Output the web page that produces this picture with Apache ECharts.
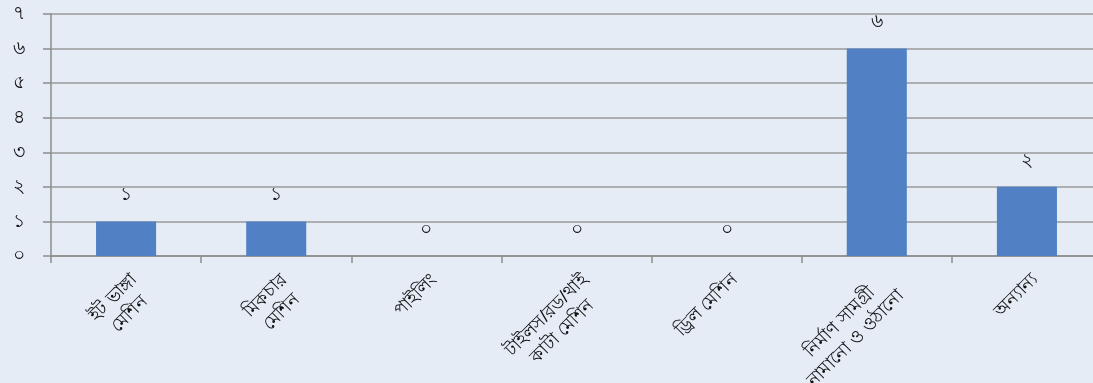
<!DOCTYPE html>
<html><head><meta charset="utf-8">
<script src="https://cdn.jsdelivr.net/npm/echarts@6/dist/echarts.min.js"></script>
<style>html,body{margin:0;padding:0;background:#E5ECF6;}#c{width:1093px;height:383px;}</style>
</head><body><div id="c"></div>
<script>
const categories = ["ইট ভাঙ্গা\nমেশিন", "মিকচার\nমেশিন", "পাইলিং", "টাইলস/রড/থাই\nকাটা মেশিন", "ড্রিল মেশিন", "নির্মাণ সামগ্রী\nনামানো ও ওঠানো", "অন্যান্য"];
const values = [1, 1, 0, 0, 0, 6, 2];
const bnDigits = ["০","১","২","৩","৪","৫","৬","৭","৮","৯"];
const toBn = n => String(n).split('').map(d => bnDigits[+d] ?? d).join('');

const FS = 18, LH = 23;
const ctx = document.createElement('canvas').getContext('2d');
ctx.font = FS + 'px sans-serif';
// one rich style per label line; shorter lines get right padding so lines are centred
const rich = {};
const labelText = {};
categories.forEach((c, i) => {
  const lines = c.split('\n');
  const ws = lines.map(l => ctx.measureText(l).width);
  const maxW = Math.max(...ws);
  labelText[c] = lines.map((l, j) => {
    const name = 'r' + i + 'x' + j;
    rich[name] = {fontSize: FS, lineHeight: LH, color: '#111', padding: [0, (maxW - ws[j]) / 2, 0, 0]};
    return '{' + name + '|' + l + '}';
  }).join('\n');
});

const chart = echarts.init(document.getElementById('c'));
chart.setOption({
  backgroundColor: '#E5ECF6',
  animation: false,
  grid: {left: 51, width: 1051, top: 14, height: 242, containLabel: false, outerBoundsMode: 'none'},
  xAxis: {
    type: 'category', data: categories,
    axisLine: {lineStyle: {color: '#8C8C8C', width: 1.5}},
    axisTick: {show: true, length: 7, lineStyle: {color: '#8C8C8C', width: 1.5}},
    axisLabel: {
      rotate: 45, interval: 0, color: '#111', fontSize: FS, lineHeight: LH, margin: 13,
      align: 'right', verticalAlign: 'top',
      formatter: v => labelText[v], rich: rich
    }
  },
  yAxis: {
    type: 'value', min: 0, max: 7, interval: 1,
    axisLine: {show: true, lineStyle: {color: '#8C8C8C', width: 1.5}},
    axisTick: {show: true, length: 8, lineStyle: {color: '#8C8C8C', width: 1.5}},
    axisLabel: {color: '#111', fontSize: 19, margin: 26, formatter: v => toBn(v)},
    splitLine: {lineStyle: {color: '#9A9A9A', width: 1.5}}
  },
  series: [{
    type: 'bar', data: values, barWidth: '40%',
    itemStyle: {color: '#5181C4'},
    label: {show: true, position: 'top', distance: 17, color: '#111', fontSize: 19, formatter: p => toBn(p.value)}
  }]
});
</script></body></html>
